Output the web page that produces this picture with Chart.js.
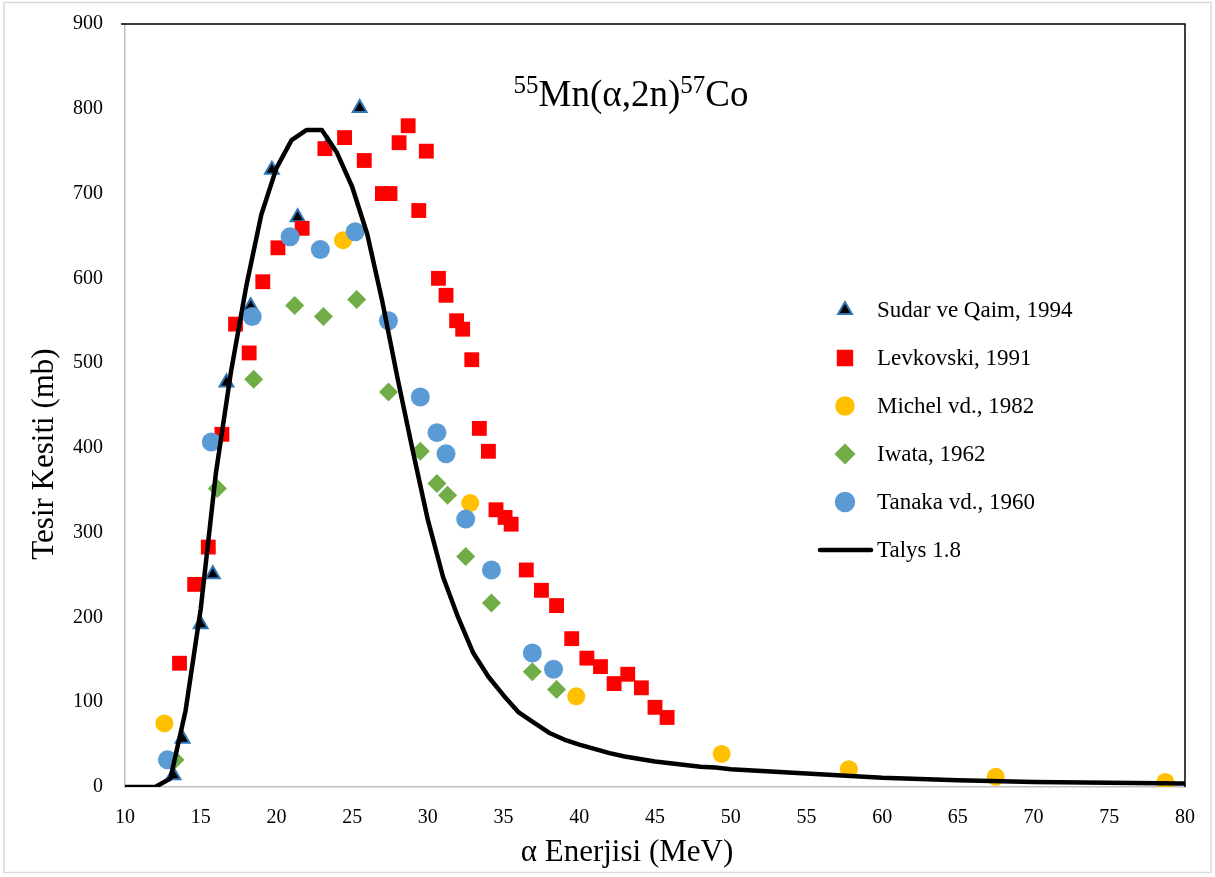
<!DOCTYPE html>
<html>
<head>
<meta charset="utf-8">
<script src="https://cdn.jsdelivr.net/npm/chart.js@4"></script>
<style>
  html, body { margin: 0; padding: 0; background: #fff; }
  #wrap { width: 1215px; height: 877px; position: relative; }
</style>
</head>
<body>
<div id="wrap"><canvas id="chart"></canvas></div>
<script>
// Sudar ve Qaim, 1994
const sudarE = [13.2, 13.8, 15.0, 15.8, 16.7, 18.3, 19.7, 21.4, 23.4, 25.5];
const sudarS = [14, 57, 192, 251, 477, 567, 728, 672, 758, 801];

// Levkovski, 1991
const levE = [13.6, 14.6, 15.5, 16.4, 17.3, 18.2, 19.1, 20.1, 21.7, 23.2, 24.5, 25.8, 27.0, 27.5, 28.1, 28.7, 29.4, 29.9, 30.7, 31.2,
              31.9, 32.3, 32.9, 33.4, 34.0, 34.5, 35.1, 35.5, 36.5, 37.5, 38.5, 39.5, 40.5, 41.4, 42.3, 43.2, 44.1, 45.0, 45.8];
const levS = [146, 239, 283, 416, 546, 512, 596, 636, 659, 753, 766, 739, 700, 700, 760, 780, 680, 750, 600, 580,
              550, 540, 504, 423, 396, 327, 318, 310, 256, 232, 214, 175, 152, 142, 122, 133, 117, 94, 82];

// Michel vd., 1982
const michelE = [12.6, 24.4, 32.8, 39.8, 49.4, 57.8, 67.5, 78.7];
const michelS = [75, 645, 335, 107, 39, 21, 12, 6];

// Iwata, 1962
const iwataE = [13.3, 16.1, 18.5, 21.2, 23.1, 25.3, 27.4, 29.5, 30.6, 31.3, 32.5, 34.2, 36.9, 38.5];
const iwataS = [32, 352, 481, 568, 555, 575, 466, 396, 358, 344, 272, 217, 136, 115];

// Tanaka vd., 1960
const tanakaE = [12.8, 15.7, 18.4, 20.9, 22.9, 25.2, 27.4, 29.5, 30.6, 31.2, 32.5, 34.2, 36.9, 38.3];
const tanakaS = [32, 407, 555, 649, 634, 655, 550, 460, 418, 393, 316, 256, 158, 139];

// Talys 1.8
const talysE = [10, 11, 12, 13, 14, 15, 16, 17, 18, 19, 20, 21, 22, 23, 24, 25, 26, 27, 28, 29, 30, 31, 32, 33, 34, 35,
                36, 37, 38, 39, 40, 41, 42, 43, 44, 45, 46, 47, 48, 49, 50, 55, 60, 65, 70, 75, 80];
const talysS = [0, 0, 0, 10, 90, 210, 370, 490, 590, 675, 730, 763, 775, 775, 748, 708, 652, 572, 482, 397, 315, 248, 200, 158, 130, 108,
                88, 76, 64, 56, 50, 45, 40, 36, 33, 30, 28, 26, 24, 23, 21, 16, 11, 8, 6, 5, 4];

const seriesLabels = ['Sudar ve Qaim, 1994', 'Levkovski, 1991', 'Michel vd., 1982', 'Iwata, 1962', 'Tanaka vd., 1960', 'Talys 1.8'];

const xTicks = [10, 15, 20, 25, 30, 35, 40, 45, 50, 55, 60, 65, 70, 75, 80];
const yTicks = [0, 100, 200, 300, 400, 500, 600, 700, 800, 900];

const xTitle = 'α Enerjisi (MeV)';
const yTitle = 'Tesir Kesiti (mb)';

function pts(xs, ys) {
    return xs.map(function(x, i) { return { x: x, y: ys[i] }; });
}

const serif = '"Liberation Serif", "Times New Roman", serif';

// 自绘 marker（图例用）
function drawMarker(ctx, ds, x, y) {
    ctx.save();
    ctx.fillStyle = ds.pointBackgroundColor;
    ctx.strokeStyle = ds.pointBorderColor;
    ctx.lineWidth = ds.pointBorderWidth || 0;
    const r = ds.pointRadius;
    ctx.beginPath();
    if (ds.pointStyle === 'triangle') {
        ctx.moveTo(x, y - r);
        ctx.lineTo(x + r * Math.sin(Math.PI * 2 / 3), y + r / 2);
        ctx.lineTo(x - r * Math.sin(Math.PI * 2 / 3), y + r / 2);
        ctx.closePath();
    } else if (ds.pointStyle === 'rect') {
        const s = Math.SQRT1_2 * r;
        ctx.rect(x - s, y - s, 2 * s, 2 * s);
    } else if (ds.pointStyle === 'rectRot') {
        ctx.moveTo(x, y - r);
        ctx.lineTo(x + r, y);
        ctx.lineTo(x, y + r);
        ctx.lineTo(x - r, y);
        ctx.closePath();
    } else {
        ctx.arc(x, y, r, 0, Math.PI * 2);
    }
    ctx.fill();
    if (ctx.lineWidth) ctx.stroke();
    ctx.restore();
}

const framePlugin = {
    id: 'frame',
    beforeDraw: function(chart) {
        const ctx = chart.ctx;
        ctx.save();
        ctx.fillStyle = '#fff';
        ctx.fillRect(0, 0, chart.width, chart.height);
        ctx.strokeStyle = '#D9D9D9';
        ctx.lineWidth = 1.5;
        ctx.strokeRect(4, 2.5, chart.width - 8, chart.height - 7);
        ctx.restore();
    },
    afterDraw: function(chart) {
        const ctx = chart.ctx;
        const a = chart.chartArea;
        ctx.save();
        // 上、右黑色边框
        ctx.strokeStyle = '#000';
        ctx.lineWidth = 1.5;
        ctx.beginPath();
        ctx.moveTo(a.left - 4, a.top);
        ctx.lineTo(a.right, a.top);
        ctx.lineTo(a.right, a.bottom);
        ctx.stroke();

        // 坐标轴标题（原图中不居中于绘图区）
        ctx.fillStyle = '#000';
        ctx.font = '31px ' + serif;
        ctx.textAlign = 'center';
        ctx.textBaseline = 'alphabetic';
        ctx.fillText(xTitle, 627, 861);
        ctx.save();
        ctx.translate(53, 454);
        ctx.rotate(-Math.PI / 2);
        ctx.fillText(yTitle, 0, 0);
        ctx.restore();

        // 标题 55Mn(α,2n)57Co
        const big = '37px ' + serif;
        const small = '25px ' + serif;
        const parts = [['55', small, -13], ['Mn(α,2n)', big, 0], ['57', small, -13], ['Co', big, 0]];
        let w = 0;
        parts.forEach(function(p) { ctx.font = p[1]; w += ctx.measureText(p[0]).width; });
        let x = 631 - w / 2;
        const base = 106;
        ctx.textAlign = 'left';
        parts.forEach(function(p) {
            ctx.font = p[1];
            ctx.fillText(p[0], x, base + p[2]);
            x += ctx.measureText(p[0]).width;
        });

        // 图例
        const ly0 = 310, dy = 48;
        ctx.font = '23px ' + serif;
        ctx.textBaseline = 'middle';
        chart.data.datasets.forEach(function(ds, k) {
            const y = ly0 + k * dy;
            if (ds.showLine) {
                ctx.strokeStyle = ds.borderColor;
                ctx.lineWidth = ds.borderWidth;
                ctx.lineCap = 'round';
                ctx.beginPath();
                ctx.moveTo(820, y);
                ctx.lineTo(871, y);
                ctx.stroke();
            } else {
                drawMarker(ctx, ds, 845, y);
            }
            ctx.fillStyle = '#000';
            ctx.fillText(ds.label, 877, y + 1);
        });
        ctx.restore();
    }
};

new Chart(document.getElementById('chart'), {
    type: 'scatter',
    data: {
        datasets: [
            {
                label: seriesLabels[0], data: pts(sudarE, sudarS), order: 6,
                pointStyle: 'triangle', pointRadius: 8, pointBorderWidth: 2,
                pointBackgroundColor: '#000', pointBorderColor: '#2E75B6'
            },
            {
                label: seriesLabels[1], data: pts(levE, levS), order: 5,
                pointStyle: 'rect', pointRadius: 10.5, pointBorderWidth: 0,
                pointBackgroundColor: '#FF0000', pointBorderColor: '#FF0000'
            },
            {
                label: seriesLabels[2], data: pts(michelE, michelS), order: 4,
                pointStyle: 'circle', pointRadius: 9, pointBorderWidth: 0,
                pointBackgroundColor: '#FFC000', pointBorderColor: '#FFC000'
            },
            {
                label: seriesLabels[3], data: pts(iwataE, iwataS), order: 3,
                pointStyle: 'rectRot', pointRadius: 9.5, pointBorderWidth: 0,
                pointBackgroundColor: '#70AD47', pointBorderColor: '#70AD47'
            },
            {
                label: seriesLabels[4], data: pts(tanakaE, tanakaS), order: 2,
                pointStyle: 'circle', pointRadius: 9.5, pointBorderWidth: 0,
                pointBackgroundColor: '#5B9BD5', pointBorderColor: '#5B9BD5'
            },
            {
                label: seriesLabels[5], data: pts(talysE, talysS), order: 1,
                showLine: true, borderColor: '#000', borderWidth: 4.5, tension: 0,
                pointRadius: 0, pointHoverRadius: 0, borderJoinStyle: 'round'
            }
        ]
    },
    options: {
        responsive: true,
        maintainAspectRatio: false,
        animation: false,
        devicePixelRatio: 1,
        layout: { padding: { left: 0, top: 24, right: 30, bottom: 0 } },
        plugins: {
            legend: { display: false },
            tooltip: { enabled: false }
        },
        scales: {
            x: {
                type: 'linear',
                min: 10, max: 80,
                afterBuildTicks: function(scale) {
                    scale.ticks = xTicks.map(function(v) { return { value: v }; });
                },
                afterFit: function(scale) { scale.height = 90; },
                grid: { display: false, drawTicks: false },
                border: { display: true, color: '#BFBFBF', width: 1.5 },
                ticks: { color: '#000', padding: 19, font: { family: serif, size: 20 } }
            },
            y: {
                type: 'linear',
                min: 0, max: 900,
                afterBuildTicks: function(scale) {
                    scale.ticks = yTicks.map(function(v) { return { value: v }; });
                },
                afterFit: function(scale) {
                    scale.width = 125;
                    // 刻度 padding 不应撑开绘图区上下边距
                    scale.paddingTop = 0;
                    scale.paddingBottom = 0;
                },
                grid: { display: false, drawTicks: false },
                border: { display: true, color: '#BFBFBF', width: 1.5 },
                ticks: { color: '#000', padding: 22, font: { family: serif, size: 20 } }
            }
        }
    },
    plugins: [framePlugin]
});
</script>
</body>
</html>
